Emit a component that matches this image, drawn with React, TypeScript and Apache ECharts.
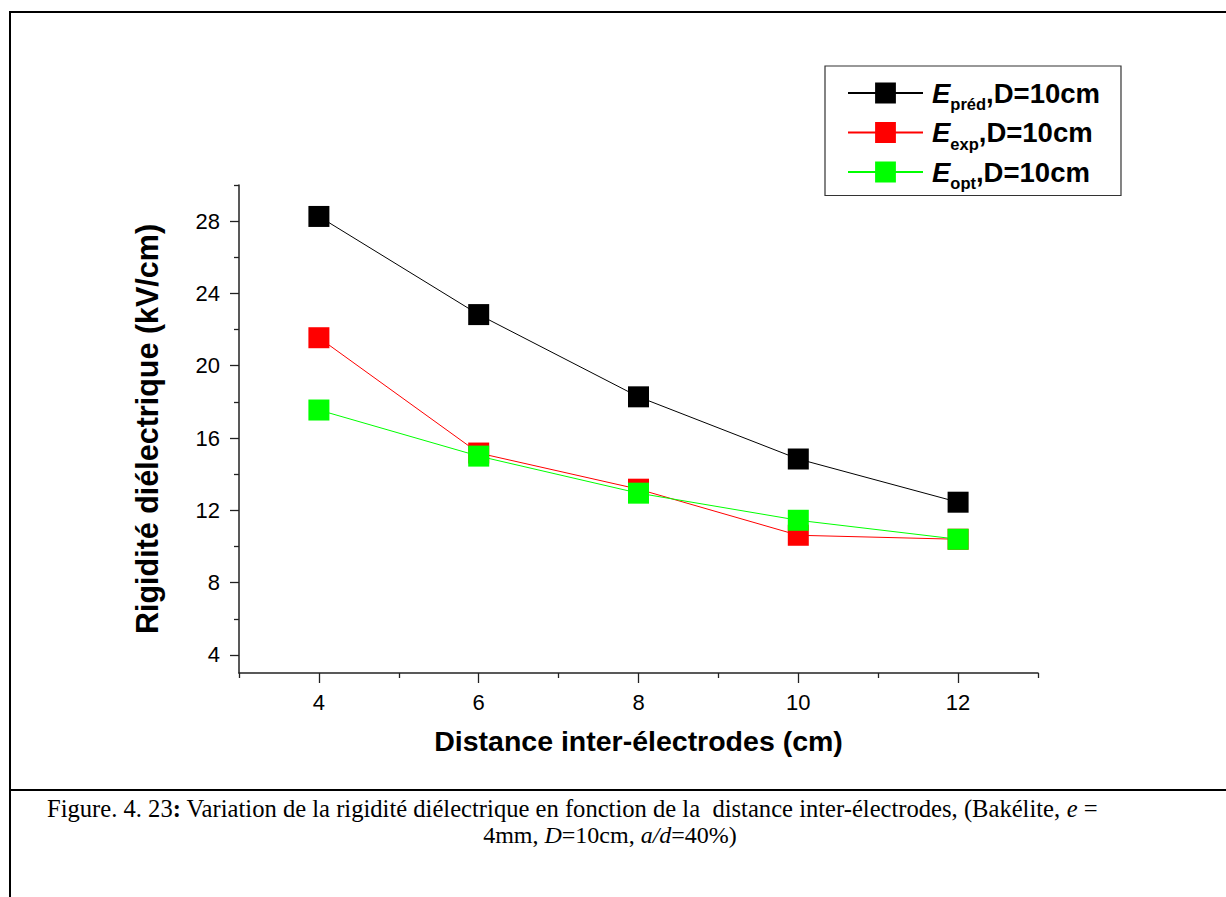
import React, { useEffect, useRef } from 'react';
import * as echarts from 'echarts';

// ---- data ----
const distances = [4, 6, 8, 10, 12];
const ePred = [28.26, 22.83, 18.28, 14.84, 12.45];
const eExp = [21.55, 15.17, 13.17, 10.62, 10.4];
const eOpt = [17.55, 15.0, 12.95, 11.45, 10.4];
const seriesSubs = ['préd', 'exp', 'opt'];
const seriesSuffix = ',D=10cm';
const seriesColors = ['#000000', '#ff0000', '#00ff00'];
const xMajorTicks = [4, 6, 8, 10, 12];
const xMinorTicks = [3, 5, 7, 9, 11, 13];
const yMajorTicks = [4, 8, 12, 16, 20, 24, 28];
const yMinorTicks = [6, 10, 14, 18, 22, 26, 30];
const xTitle = 'Distance inter-électrodes (cm)';
const yTitle = 'Rigidité diélectrique (kV/cm)';

const SANS = '"Liberation Sans", Arial, sans-serif';
const SERIF = '"Liberation Serif", "Times New Roman", serif';
const AX = '#222';

function buildOption() {
  const values = [ePred, eExp, eOpt];
  const names = seriesSubs.map((s) => 'E' + s + seriesSuffix);
  const series = values.map((vals, i) => ({
    type: 'line',
    name: names[i],
    data: distances.map((d, j) => [d, vals[j]]),
    symbol: 'rect',
    symbolSize: 21,
    showSymbol: true,
    lineStyle: { color: seriesColors[i], width: 1 },
    itemStyle: { color: seriesColors[i] },
    emphasis: { disabled: true },
    silent: true,
    z: 2 + i,
  }));

  const capBase = { fontFamily: SERIF, fontSize: 24, color: '#000' };
  const cap1 = { ...capBase, fontSize: 24.6 };
  const tickFont = { fontSize: 22, fontFamily: SANS, color: '#000' };
  return {
    animation: false,
    backgroundColor: '#ffffff',
    grid: { left: 239, top: 185, right: 188, bottom: 224, outerBoundsMode: 'none', containLabel: false },
    xAxis: [
      {
        type: 'value', min: 3, max: 13, position: 'bottom',
        axisLine: { show: true, lineStyle: { color: AX, width: 1.5 } },
        axisTick: { show: true, customValues: xMajorTicks, length: 10, lineStyle: { color: AX, width: 1.3 } },
        axisLabel: { customValues: xMajorTicks, margin: 18, ...tickFont },
        splitLine: { show: false },
        name: xTitle, nameLocation: 'middle', nameGap: 53,
        nameTextStyle: { fontFamily: SANS, fontSize: 28.5, fontWeight: 'bold', color: '#000' },
      },
      {
        type: 'value', min: 3, max: 13, position: 'bottom',
        axisLine: { show: false },
        axisTick: { show: true, customValues: xMinorTicks, length: 5, lineStyle: { color: AX, width: 1.3 } },
        axisLabel: { show: false },
        splitLine: { show: false },
      },
    ],
    yAxis: [
      {
        type: 'value', min: 3, max: 30, position: 'left',
        axisLine: { show: true, lineStyle: { color: AX, width: 1.5 } },
        axisTick: { show: true, customValues: yMajorTicks, length: 9, lineStyle: { color: AX, width: 1.3 } },
        axisLabel: { customValues: yMajorTicks, margin: 19, ...tickFont },
        splitLine: { show: false },
        name: yTitle, nameLocation: 'middle', nameGap: 77, nameRotate: 90,
        nameTextStyle: { fontFamily: SANS, fontSize: 30.5, fontWeight: 'bold', color: '#000' },
      },
      {
        type: 'value', min: 3, max: 30, position: 'left',
        axisLine: { show: false },
        axisTick: { show: true, customValues: yMinorTicks, length: 5, lineStyle: { color: AX, width: 1.3 } },
        axisLabel: { show: false },
        splitLine: { show: false },
      },
    ],
    legend: {
      show: true,
      orient: 'vertical',
      left: 825,
      top: 66,
      padding: [13, 21, 4, 22],
      itemGap: 6,
      itemWidth: 75,
      itemHeight: 26,
      borderColor: '#333',
      borderWidth: 1.2,
      backgroundColor: '#fff',
      selectedMode: false,
      data: names,
      formatter: (name: string) => {
        const idx = names.indexOf(name);
        return '{e|E}{s|' + seriesSubs[idx] + '}{n|' + seriesSuffix + '}';
      },
      textStyle: {
        fontFamily: SANS, fontSize: 27, fontWeight: 'bold', color: '#000',
        rich: {
          e: { fontFamily: SANS, fontSize: 27.5, fontWeight: 'bold', fontStyle: 'italic', color: '#000', lineHeight: 26, padding: [0, 0, 0, 4], verticalAlign: 'middle' },
          s: { fontFamily: SANS, fontSize: 16.5, fontWeight: 'bold', color: '#000', lineHeight: 26, padding: [11, 0, -11, 0], verticalAlign: 'middle' },
          n: { fontFamily: SANS, fontSize: 27.5, fontWeight: 'bold', color: '#000', lineHeight: 26, verticalAlign: 'middle' },
        },
      },
    },
    graphic: [
      { type: 'line', shape: { x1: 10, y1: 12, x2: 1226, y2: 12 }, style: { stroke: '#000', lineWidth: 2 }, silent: true },
      { type: 'line', shape: { x1: 10, y1: 11, x2: 10, y2: 897 }, style: { stroke: '#000', lineWidth: 2 }, silent: true },
      { type: 'line', shape: { x1: 10, y1: 790, x2: 1226, y2: 790 }, style: { stroke: '#000', lineWidth: 2 }, silent: true },
      {
        type: 'text', left: 47, top: 796, silent: true,
        style: {
          text: '{n|Figure. 4. 23}{b|:}{n| Variation de la rigidité diélectrique en fonction de la  distance inter-électrodes, (Bakélite, }{i|e}{n| =}',
          rich: {
            n: { ...cap1 },
            b: { ...cap1, fontWeight: 'bold' },
            i: { ...cap1, fontStyle: 'italic' },
          },
        },
      },
      {
        type: 'text', x: 610, y: 823, silent: true,
        style: {
          align: 'center',
          text: '{n|4mm, }{i|D}{n|=10cm, }{i|a/d}{n|=40%)}',
          rich: {
            n: { ...capBase },
            i: { ...capBase, fontStyle: 'italic' },
          },
        },
      },
    ],
    series,
  };
}

export default function App() {
  const ref = useRef<HTMLDivElement>(null);
  useEffect(() => {
    if (!ref.current) return;
    const chart = echarts.init(ref.current, null, { renderer: 'svg' });
    chart.setOption(buildOption() as any);
    return () => chart.dispose();
  }, []);
  return (
    <div
      ref={ref}
      style={{ position: 'absolute', left: 0, top: 0, width: 1226, height: 897, background: '#fff' }}
    />
  );
}
